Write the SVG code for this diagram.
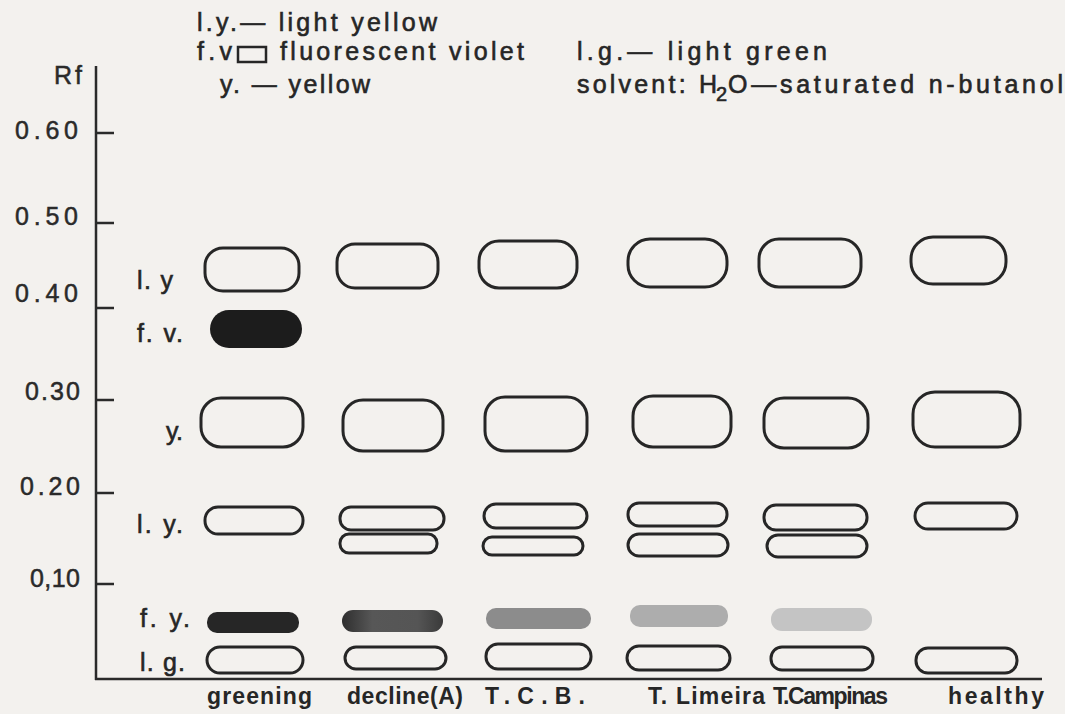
<svg xmlns="http://www.w3.org/2000/svg" width="1065" height="714" viewBox="0 0 1065 714">
<defs>
<style>
.t{font-family:"Liberation Sans",Arial,sans-serif;font-size:25px;fill:#262626;stroke:#262626;stroke-width:0.6;}
.tk{font-family:"Liberation Sans",Arial,sans-serif;font-size:25px;fill:#2a2a2a;stroke:#2a2a2a;stroke-width:0.5;}
.xl{font-family:"Liberation Sans",Arial,sans-serif;font-size:23px;font-weight:bold;fill:#262626;}
.sp{fill:none;stroke:#262626;stroke-width:3;}
.ax{stroke:#2a2a2a;stroke-width:2.5;fill:none;}
</style>
<linearGradient id="gdec" x1="0" y1="0" x2="1" y2="0">
<stop offset="0" stop-color="#2e2e2e"/>
<stop offset="0.3" stop-color="#575757"/>
<stop offset="0.75" stop-color="#555555"/>
<stop offset="1" stop-color="#3a3a3a"/>
</linearGradient>
</defs>
<rect x="0" y="0" width="1065" height="714" fill="#f3f1ee"/>

<g id="legend">
<text class="t" x="197" y="31" textLength="240" lengthAdjust="spacing">l.y.— light yellow</text>
<text class="t" x="197" y="60" textLength="35" lengthAdjust="spacing">f.v</text>
<rect x="238" y="47" width="28" height="15" fill="none" stroke="#262626" stroke-width="2.5"/>
<text class="t" x="280" y="60" textLength="244" lengthAdjust="spacing">fluorescent violet</text>
<text class="t" x="220" y="93" textLength="150" lengthAdjust="spacing">y. — yellow</text>
<text class="t" x="577" y="60" textLength="250" lengthAdjust="spacing">l.g.— light green</text>
<text class="t" x="577" y="93" textLength="140" lengthAdjust="spacing">solvent: H</text>
<text class="t" x="716" y="101" style="font-size:20px">2</text>
<text class="t" x="728" y="93" textLength="335" lengthAdjust="spacing">O—saturated n-butanol</text>
</g>

<g id="axes">
<line class="ax" x1="96" y1="66" x2="96" y2="680"/>
<line class="ax" x1="95" y1="679" x2="1042" y2="679"/>
<line class="ax" x1="96" y1="133" x2="114" y2="133"/>
<line class="ax" x1="96" y1="223" x2="114" y2="223"/>
<line class="ax" x1="96" y1="308" x2="114" y2="308"/>
<line class="ax" x1="96" y1="400" x2="114" y2="400"/>
<line class="ax" x1="96" y1="493" x2="114" y2="493"/>
<line class="ax" x1="96" y1="584" x2="114" y2="584"/>
<text class="tk" x="54" y="84" textLength="28" lengthAdjust="spacing">Rf</text>
<text class="tk" x="15" y="139" textLength="63" lengthAdjust="spacing">0.60</text>
<text class="tk" x="15" y="225" textLength="63" lengthAdjust="spacing">0.50</text>
<text class="tk" x="15" y="302" textLength="63" lengthAdjust="spacing">0.40</text>
<text class="tk" x="25" y="400" textLength="55" lengthAdjust="spacing">0.30</text>
<text class="tk" x="20" y="495" textLength="60" lengthAdjust="spacing">0.20</text>
<text class="tk" x="30" y="587" textLength="50" lengthAdjust="spacing">0,10</text>
</g>

<g id="row-labels">
<text class="t" x="137" y="289" textLength="36" lengthAdjust="spacing">l. y</text>
<text class="t" x="137" y="342" textLength="46" lengthAdjust="spacing">f. v.</text>
<text class="t" x="166" y="440" textLength="17" lengthAdjust="spacing">y.</text>
<text class="t" x="137" y="533" textLength="46" lengthAdjust="spacing">l. y.</text>
<text class="t" x="140" y="627" textLength="50" lengthAdjust="spacing">f. y.</text>
<text class="t" x="140" y="671" textLength="45" lengthAdjust="spacing">l. g.</text>
</g>

<g id="greening">
<rect class="sp" x="205" y="248" width="94" height="43" rx="18"/>
<rect x="210" y="310" width="92" height="38" rx="19" fill="#1c1c1c"/>
<rect class="sp" x="201" y="398" width="102" height="49" rx="20"/>
<rect class="sp" x="205" y="507" width="98" height="27" rx="13"/>
<rect x="207" y="612" width="92" height="21" rx="10" fill="#262626"/>
<rect class="sp" x="207" y="647" width="96" height="26" rx="13"/>
<text class="xl" x="207" y="704" textLength="105" lengthAdjust="spacing">greening</text>
</g>

<g id="decline">
<rect class="sp" x="337" y="244" width="101" height="44" rx="18"/>
<rect class="sp" x="343" y="400" width="100" height="51" rx="20"/>
<rect class="sp" x="340" y="507" width="104" height="23" rx="11"/>
<rect class="sp" x="340" y="534" width="97" height="19" rx="9"/>
<rect x="342" y="610" width="101" height="22" rx="11" fill="url(#gdec)"/>
<rect class="sp" x="345" y="647" width="101" height="22" rx="11"/>
<text class="xl" x="347" y="704" textLength="116" lengthAdjust="spacing">decline(A)</text>
</g>

<g id="tcb">
<rect class="sp" x="479" y="241" width="98" height="47" rx="20"/>
<rect class="sp" x="485" y="397" width="102" height="54" rx="20"/>
<rect class="sp" x="484" y="504" width="103" height="24" rx="12"/>
<rect class="sp" x="483" y="537" width="100" height="18" rx="9"/>
<rect x="486" y="608" width="105" height="21" rx="10" fill="#8c8c8c"/>
<rect class="sp" x="486" y="644" width="105" height="25" rx="12"/>
<text class="xl" x="485" y="704" textLength="100" lengthAdjust="spacing">T.C.B.</text>
</g>

<g id="limeira">
<rect class="sp" x="628" y="239" width="99" height="48" rx="22"/>
<rect class="sp" x="633" y="396" width="98" height="51" rx="20"/>
<rect class="sp" x="628" y="503" width="99" height="23" rx="11"/>
<rect class="sp" x="628" y="534" width="100" height="22" rx="11"/>
<rect x="630" y="605" width="98" height="22" rx="10" fill="#adadad"/>
<rect class="sp" x="627" y="646" width="103" height="24" rx="12"/>
<text class="xl" x="648" y="704" textLength="117" lengthAdjust="spacing">T. Limeira</text>
</g>

<g id="campinas">
<rect class="sp" x="759" y="239" width="102" height="48" rx="20"/>
<rect class="sp" x="764" y="398" width="104" height="50" rx="20"/>
<rect class="sp" x="764" y="505" width="103" height="25" rx="12"/>
<rect class="sp" x="767" y="535" width="100" height="22" rx="11"/>
<rect x="771" y="608" width="101" height="23" rx="11" fill="#c4c4c4"/>
<rect class="sp" x="771" y="647" width="102" height="23" rx="11"/>
<text class="xl" x="773" y="704" textLength="115" lengthAdjust="spacing">T.Campinas</text>
</g>

<g id="healthy">
<rect class="sp" x="911" y="237" width="95" height="47" rx="22"/>
<rect class="sp" x="913" y="392" width="107" height="55" rx="22"/>
<rect class="sp" x="915" y="503" width="102" height="26" rx="13"/>
<rect class="sp" x="916" y="648" width="101" height="25" rx="12"/>
<text class="xl" x="948" y="704" textLength="96" lengthAdjust="spacing">healthy</text>
</g>
</svg>
